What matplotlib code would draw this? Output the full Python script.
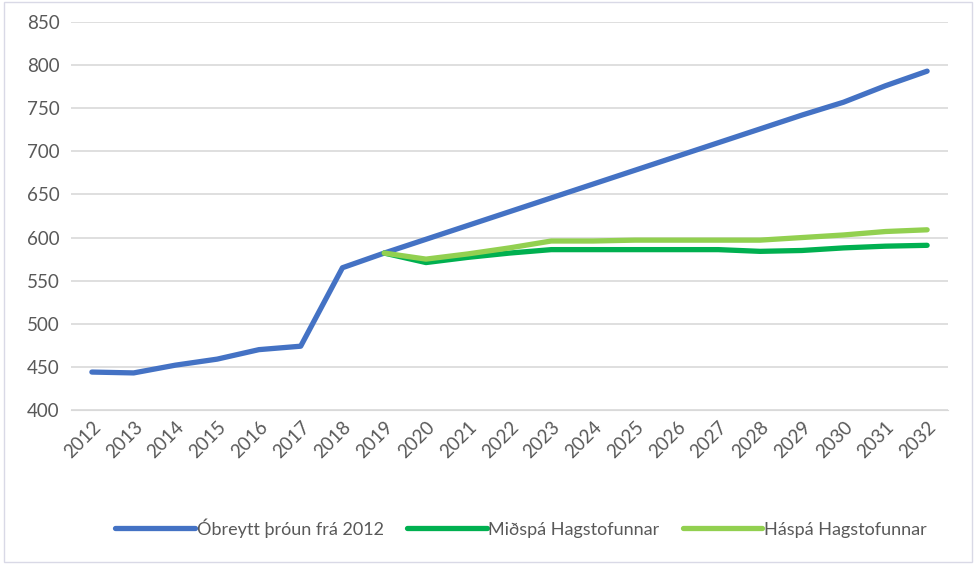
import matplotlib

matplotlib.use("Agg")
import matplotlib.pyplot as plt
from matplotlib.patches import Rectangle

years = list(range(2012, 2033))
forecast_years = list(range(2019, 2033))

unchanged = [444, 443, 452, 459, 470, 474, 565, 582, 598, 614, 630, 646,
             662, 678, 694, 710, 726, 742, 757, 776, 793]
mid_forecast = [582, 571, 577, 582, 586, 586, 586, 586, 586, 584, 585, 588, 590, 591]
high_forecast = [582, 575, 581, 588, 596, 596, 597, 597, 597, 597, 600, 603, 607, 609]

labels = ["Óbreytt þróun frá 2012", "Miðspá Hagstofunnar", "Háspá Hagstofunnar"]
colors = ["#4472C4", "#00B050", "#92D050"]

plt.rcParams["font.family"] = ["Lato", "DejaVu Sans"]

fig = plt.figure(figsize=(9.76, 5.64), dpi=100)
ax = fig.add_axes([71 / 976, 1 - 410 / 564, (948 - 71) / 976, (410 - 22) / 564])

x_all = list(range(len(years)))
x_fc = [years.index(y) for y in forecast_years]

ax.plot(x_all, unchanged, color=colors[0], lw=3.8, solid_capstyle="round", label=labels[0], zorder=3)
ax.plot(x_fc, mid_forecast, color=colors[1], lw=3.8, solid_capstyle="round", label=labels[1], zorder=4)
ax.plot(x_fc, high_forecast, color=colors[2], lw=3.8, solid_capstyle="round", label=labels[2], zorder=5)

ax.set_xlim(-0.5, len(years) - 0.5)
ax.set_ylim(400, 850)
ax.set_yticks(range(400, 851, 50))
ax.set_xticks(x_all)
ax.set_xticklabels([str(y) for y in years], rotation=45, ha="right", rotation_mode="anchor")
ax.grid(axis="y", color="#D9D9D9", lw=1.2)
ax.set_axisbelow(True)
for side in ["top", "right", "left"]:
    ax.spines[side].set_visible(False)
ax.spines["bottom"].set_color("#D9D9D9")
ax.tick_params(axis="both", length=0, colors="#595959", labelsize=13.5)
ax.tick_params(axis="y", pad=8)
ax.tick_params(axis="x", pad=6)

leg = fig.legend(loc="center", bbox_to_anchor=(0.534, 1 - 528 / 564), ncol=3, frameon=False,
                 fontsize=13, handlelength=4.4, handletextpad=0.1, columnspacing=1.3)
for t in leg.get_texts():
    t.set_color("#595959")

fig.patches.append(Rectangle((0.004, 0.004), 0.992, 0.992, transform=fig.transFigure,
                             fill=False, edgecolor="#D9D9E6", lw=1))

fig.savefig("out.png", dpi=100)
